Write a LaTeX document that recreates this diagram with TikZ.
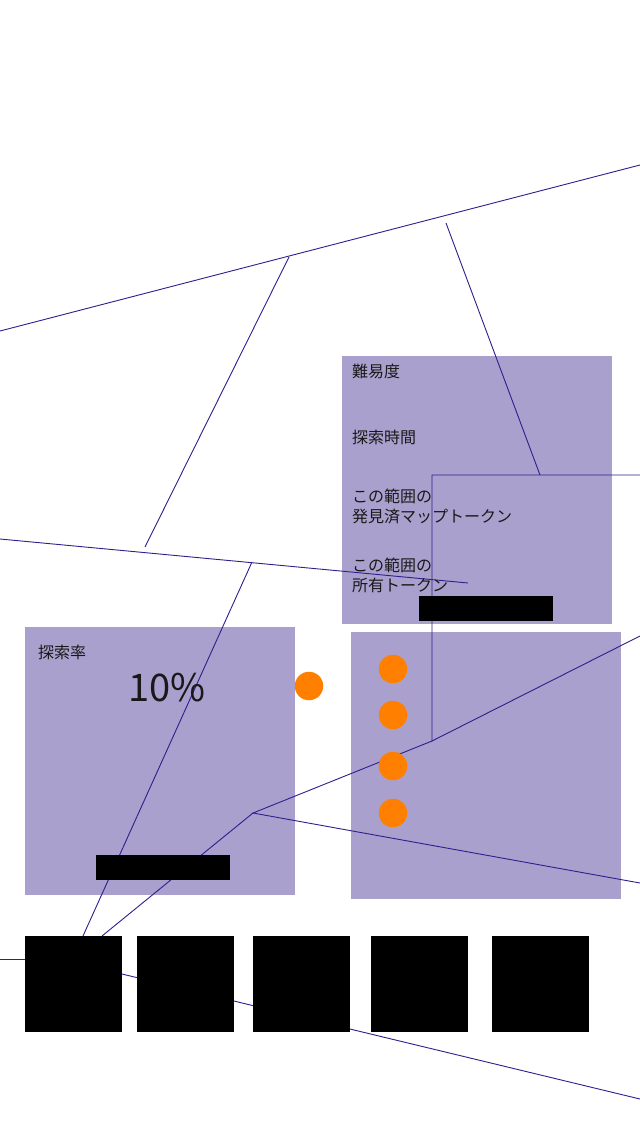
\documentclass[tikz,border=0pt]{standalone}
\usepackage{fontspec}
\setmainfont{Noto Sans CJK JP}
\definecolor{panelc}{RGB}{170,160,205}
\definecolor{wirec}{RGB}{48,30,140}
\definecolor{dotc}{RGB}{255,128,0}
\begin{document}
\begin{tikzpicture}[x=1pt,y=-1pt,
  panel/.style={fill=panelc, draw=none, inner sep=0, anchor=north west},
  blk/.style={fill=black, draw=none, inner sep=0, anchor=north west},
  dot/.style={circle, fill=dotc, draw=none, minimum size=28.5pt, inner sep=0},
  wire/.style={draw=wirec, line width=0.9pt},
  lbl/.style={anchor=west, inner sep=0, text=black!90, font=\fontsize{16}{20}\selectfont, align=left}]
\useasboundingbox[fill=white] (0,0) rectangle (640,1136);

% panels
\node[panel, minimum width=270pt, minimum height=268pt] (ptop) at (342,356) {};
\node[panel, minimum width=270pt, minimum height=268pt] (pleft) at (25,627) {};
\node[panel, minimum width=270pt, minimum height=267pt] (pright) at (351,632) {};

% wire coordinates
\coordinate (a1) at (0,331);
\coordinate (a2) at (640,165);
\coordinate (b1) at (289,257);
\coordinate (b2) at (145,547);
\coordinate (c1) at (446,223);
\coordinate (c2) at (540,475);
\coordinate (d1) at (0,539);
\coordinate (d2) at (468,583);
\coordinate (e1) at (640,475);
\coordinate (e2) at (432,475);
\coordinate (e3) at (432,741);
\coordinate (e4) at (640,636);
\coordinate (f1) at (253,813);
\coordinate (f2) at (640,883);
\coordinate (f3) at (102,936);
\coordinate (g1) at (252,562);
\coordinate (g2) at (83,936);
\coordinate (h1) at (0,959);
\coordinate (h2) at (25,959);
\coordinate (k1) at (122,974);
\coordinate (k2) at (640,1099);

% wires
\draw[wire] (a1) -- (a2);
\draw[wire] (b1) -- (b2);
\draw[wire] (c1) -- (c2);
\draw[wire] (d1) -- (d2);
\draw[wire] (e1) -- (e2) -- (e3) -- (e4);
\draw[wire] (e3) -- (f1) -- (f2);
\draw[wire] (f1) -- (f3);
\draw[wire] (g1) -- (g2);
\draw[wire] (h1) -- (h2);
\draw[wire] (k1) -- (k2);

% black bars and boxes
\node[blk, minimum width=134pt, minimum height=25pt] (bar1) at (419,596) {};
\node[blk, minimum width=134pt, minimum height=25pt] (bar2) at (96,855) {};
\node[blk, minimum width=97pt, minimum height=96pt] (sq1) at (25,936) {};
\node[blk, minimum width=97pt, minimum height=96pt] (sq2) at (137,936) {};
\node[blk, minimum width=97pt, minimum height=96pt] (sq3) at (253,936) {};
\node[blk, minimum width=97pt, minimum height=96pt] (sq4) at (371,936) {};
\node[blk, minimum width=97pt, minimum height=96pt] (sq5) at (492,936) {};

% orange dots
\node[dot] (o0) at (309,686) {};
\node[dot] (o1) at (393,669) {};
\node[dot] (o2) at (393,715) {};
\node[dot] (o3) at (393,766) {};
\node[dot] (o4) at (393,813) {};

% texts
\node[lbl] (t1) at (352,371) {難易度};
\node[lbl] (t2) at (352,437) {探索時間};
\node[lbl] (t3) at (352,506) {この範囲の\\発見済マップトークン};
\node[lbl] (t4) at (352,575) {この範囲の\\所有トークン};
\node[lbl] (t5) at (38,652) {探索率};
\node[inner sep=0, text=black!90, font=\fontsize{38}{42}\selectfont] (t6) at (167,688) {10\%};
\end{tikzpicture}
\end{document}
